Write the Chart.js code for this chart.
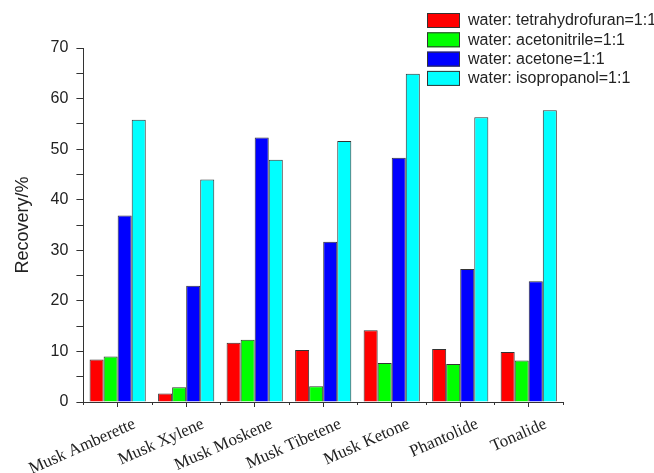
<!DOCTYPE html>
<html>
<head>
<meta charset="utf-8">
<script src="https://cdn.jsdelivr.net/npm/chart.js@4/dist/chart.umd.min.js"></script>
<style>
  html, body { margin: 0; padding: 0; background: #ffffff; }
  #wrap { width: 654px; height: 473px; }
</style>
</head>
<body>
<div id="wrap"><canvas id="c" width="654" height="473"></canvas></div>
<script>
// Compounds on the x axis
const categories = ['Musk Amberette', 'Musk Xylene', 'Musk Moskene', 'Musk Tibetene', 'Musk Ketone', 'Phantolide', 'Tonalide'];

// Recovery (%) for each extraction solvent mixture
const thfValues = [8.4, 1.7, 11.7, 10.3, 14.2, 10.5, 9.9];
const acetonitrileValues = [9.0, 2.9, 12.3, 3.1, 7.7, 7.5, 8.2];
const acetoneValues = [36.9, 23.0, 52.3, 31.7, 48.3, 26.3, 23.9];
const isopropanolValues = [55.8, 44.0, 47.9, 51.6, 64.9, 56.3, 57.7];

const seriesNames = ['water: tetrahydrofuran=1:1', 'water: acetonitrile=1:1', 'water: acetone=1:1', 'water: isopropanol=1:1'];
const seriesColors = ['#ff0000', '#00ff00', '#0000ff', '#00ffff'];

// y axis: 0..70, labelled every 10
const yMin = 0, yMax = 70, yLabelStep = 10, yMinorStep = 5;

const series = [thfValues, acetonitrileValues, acetoneValues, isopropanolValues];

// Short ticks at the category boundaries on the x axis
const boundaryTicks = {
  id: 'boundaryTicks',
  afterDraw(chart) {
    const x = chart.scales.x;
    const { ctx } = chart;
    const n = categories.length;
    const step = (x.right - x.left) / n;
    ctx.save();
    ctx.strokeStyle = '#333';
    ctx.lineWidth = 1;
    ctx.beginPath();
    for (let i = 0; i <= n; i++) {
      const px = Math.round(x.left + i * step) + 0.5;
      ctx.moveTo(px, x.top);
      ctx.lineTo(px, x.top + 3);
    }
    ctx.stroke();
    ctx.restore();
  }
};

// Legend stacked at the top right
const cornerLegend = {
  id: 'cornerLegend',
  afterDraw(chart) {
    const { ctx } = chart;
    const boxX = 427, boxW = 33, boxH = 15, top = 13, gap = 19.3, textX = 468;
    ctx.save();
    ctx.font = '16px "Liberation Sans", Arial, sans-serif';
    ctx.textBaseline = 'middle';
    ctx.textAlign = 'left';
    chart.data.datasets.forEach((ds, i) => {
      const y = top + i * gap;
      ctx.fillStyle = ds.backgroundColor;
      ctx.fillRect(boxX, y, boxW, boxH);
      ctx.strokeStyle = '#333';
      ctx.lineWidth = 1;
      ctx.strokeRect(boxX + 0.5, y + 0.5, boxW - 1, boxH - 1);
      ctx.fillStyle = '#222';
      ctx.fillText(ds.label, textX, y + boxH / 2 + 0.5);
    });
    ctx.restore();
  }
};

new Chart(document.getElementById('c'), {
  type: 'bar',
  data: {
    labels: categories,
    datasets: series.map((values, i) => ({
      label: seriesNames[i],
      data: values,
      backgroundColor: seriesColors[i],
      borderColor: '#333',
      borderWidth: 1,
      barPercentage: 1.0,
      categoryPercentage: 0.82
    }))
  },
  options: {
    responsive: false,
    animation: false,
    devicePixelRatio: 1,
    layout: { padding: { left: 0, top: 48, right: 91, bottom: 0 } },
    plugins: {
      legend: { display: false },
      tooltip: { enabled: false }
    },
    scales: {
      x: {
        offset: true,
        grid: {
          offset: false,
          drawOnChartArea: false,
          drawTicks: true,
          tickLength: 5,
          color: '#333'
        },
        border: { display: true, color: '#333', width: 1 },
        ticks: {
          autoSkip: false,
          minRotation: 24,
          maxRotation: 24,
          labelOffset: 17,
          padding: 7,
          color: '#222',
          font: { family: '"Liberation Serif", "Times New Roman", serif', size: 17 }
        },
        afterFit(scale) { scale.height = 71; }
      },
      y: {
        min: yMin,
        max: yMax,
        grid: {
          drawOnChartArea: false,
          drawTicks: true,
          tickLength: 7,
          color: '#333'
        },
        border: { display: true, color: '#333', width: 1 },
        ticks: {
          stepSize: yMinorStep,
          padding: 8,
          color: '#222',
          font: { family: '"Liberation Sans", Arial, sans-serif', size: 16 },
          callback: (v) => (v % yLabelStep === 0 ? v : '')
        },
        title: {
          display: true,
          text: 'Recovery/%',
          color: '#222',
          padding: { top: 11, bottom: 0 },
          font: { family: '"Liberation Sans", Arial, sans-serif', size: 18 }
        },
        afterFit(scale) { scale.width = 82; }
      }
    }
  },
  plugins: [boundaryTicks, cornerLegend]
});
</script>
</body>
</html>
